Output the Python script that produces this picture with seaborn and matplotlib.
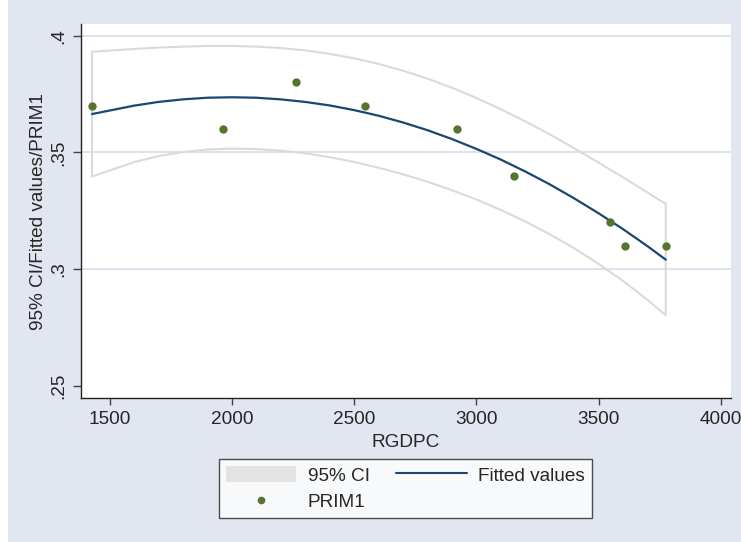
import matplotlib
matplotlib.use("Agg")
import matplotlib.pyplot as plt
from matplotlib.patches import Patch, Rectangle
from matplotlib.lines import Line2D
import seaborn as sns
import pandas as pd

# Observed values
rgdpc = [1428, 1965, 2263, 2545, 2922, 3154, 3546, 3608, 3775]
prim1 = [0.37, 0.36, 0.38, 0.37, 0.36, 0.34, 0.32, 0.31, 0.31]

# Quadratic fit and 95% CI band evaluated along RGDPC
fit_x = [1428, 1600, 1700, 1800, 1900, 2000, 2100, 2200, 2300, 2400, 2500, 2600,
         2700, 2800, 2900, 3000, 3100, 3200, 3300, 3400, 3500, 3600, 3700, 3775]
fitted = [0.3664, 0.3700, 0.3716, 0.3727, 0.3734, 0.3736, 0.3734, 0.3727,
          0.3716, 0.3701, 0.3681, 0.3657, 0.3628, 0.3595, 0.3557, 0.3515,
          0.3469, 0.3418, 0.3363, 0.3303, 0.3239, 0.3171, 0.3098, 0.3040]
ci_upper = [0.3931, 0.3943, 0.3949, 0.3953, 0.3956, 0.3956, 0.3953, 0.3947,
            0.3937, 0.3922, 0.3903, 0.3879, 0.3850, 0.3816, 0.3777, 0.3733,
            0.3685, 0.3633, 0.3577, 0.3518, 0.3456, 0.3393, 0.3328, 0.3279]
ci_lower = [0.3396, 0.3458, 0.3484, 0.3501, 0.3512, 0.3516, 0.3514, 0.3507,
            0.3496, 0.3479, 0.3459, 0.3434, 0.3406, 0.3374, 0.3338, 0.3298,
            0.3253, 0.3204, 0.3149, 0.3089, 0.3022, 0.2949, 0.2868, 0.2801]

x_ticks = [1500, 2000, 2500, 3000, 3500, 4000]
y_ticks = [0.25, 0.30, 0.35, 0.40]
y_tick_labels = [".25", ".3", ".35", ".4"]
grid_levels = [0.30, 0.35, 0.40]

BG = "#E1E6F0"
NAVY = "#1A476F"
GREEN = "#55752F"
CI_EDGE = "#DADADA"
CI_FILL = "#E3E3E3"
GRID = "#DCE3EE"

sns.set_theme(style="white")
plt.rcParams["font.family"] = ["Liberation Sans", "DejaVu Sans"]
FS = 13.7

fig = plt.figure(figsize=(7.41, 5.42), dpi=100, facecolor=BG)
# thin white margin along the left edge of the canvas
fig.patches.append(Rectangle((0, 0), 8 / 741, 1, transform=fig.transFigure,
                             facecolor="white", edgecolor="none", zorder=0))

W, H = 741, 542
ax = fig.add_axes([81 / W, 1 - 398 / H, (731 - 81) / W, (398 - 24) / H])
ax.set_facecolor("white")

for g in grid_levels:
    ax.axhline(g, color=GRID, lw=1.4, zorder=0)

# CI band drawn as an outlined polygon
poly_x = fit_x + fit_x[::-1] + [fit_x[0]]
poly_y = ci_upper + ci_lower[::-1] + [ci_upper[0]]
ax.plot(poly_x, poly_y, color=CI_EDGE, lw=1.5, zorder=1, solid_joinstyle="miter")

fit_df = pd.DataFrame({"RGDPC": fit_x, "fit": fitted})
sns.lineplot(data=fit_df, x="RGDPC", y="fit", color=NAVY, lw=1.6, sort=False,
             estimator=None, ax=ax, zorder=2)

pts = pd.DataFrame({"RGDPC": rgdpc, "PRIM1": prim1})
sns.scatterplot(data=pts, x="RGDPC", y="PRIM1", color=GREEN, s=36,
                edgecolor=GREEN, linewidth=0, ax=ax, zorder=3)

ax.set_xlim(1383, 4042)
ax.set_ylim(0.2447, 0.4050)
ax.set_xticks(x_ticks)
ax.set_xticklabels([str(v) for v in x_ticks], fontsize=FS)
ax.set_yticks(y_ticks)
ax.set_yticklabels(y_tick_labels, fontsize=FS, rotation=90, va="center")

for side in ["top", "right"]:
    ax.spines[side].set_visible(False)
for side in ["left", "bottom"]:
    ax.spines[side].set_color("#222222")
    ax.spines[side].set_linewidth(1.0)

ax.tick_params(axis="x", length=5, width=1, color="#444444", pad=4, bottom=True)
ax.tick_params(axis="y", length=6, width=1, color="#444444", pad=4, left=True)

ax.set_xlabel("RGDPC", fontsize=FS, va="baseline")
ax.xaxis.set_label_coords(0.5, (398 - 447) / 374)
ax.set_ylabel("95% CI/Fitted values/PRIM1", fontsize=FS, va="center")
ax.yaxis.set_label_coords((38.5 - 81) / 650, 0.5)

handles = [
    Patch(facecolor=CI_FILL, edgecolor="none"),
    Line2D([], [], marker="o", ls="none", color=GREEN, markersize=4.5),
    Line2D([], [], color=NAVY, lw=1.5),
]
labels = ["95% CI", "PRIM1", "Fitted values"]
leg = fig.legend(handles, labels, ncol=2, loc="center",
                 bbox_to_anchor=(405.5 / W, 1 - 488.5 / H),
                 bbox_transform=fig.transFigure, fontsize=FS,
                 frameon=True, fancybox=False, edgecolor="#222222",
                 handlelength=3.7, handleheight=0.95, handletextpad=0.6,
                 columnspacing=1.4, labelspacing=0.4, borderpad=0.35,
                 borderaxespad=0)
leg.get_frame().set_linewidth(1.0)
leg.get_frame().set_facecolor("white")

fig.savefig("out.png", dpi=100, facecolor=BG)
